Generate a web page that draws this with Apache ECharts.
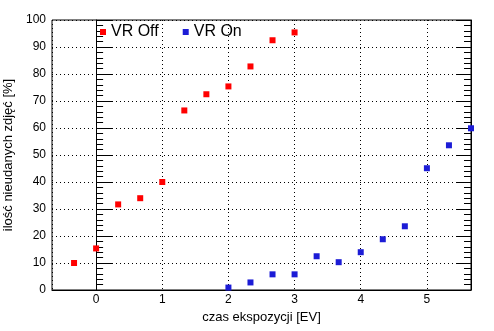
<!DOCTYPE html>
<html>
<head>
<meta charset="utf-8">
<script src="https://cdn.jsdelivr.net/npm/echarts@6/dist/echarts.min.js"></script>
<style>html,body{margin:0;padding:0;background:#fff}#c{width:494px;height:331px}</style>
</head>
<body>
<div id="c"></div>
<script>
var seriesNames = ['VR Off', 'VR On'];
var xOff = [-1/3, 0, 1/3, 2/3, 1, 4/3, 5/3, 2, 7/3, 8/3, 3];
var yOff = [10, 15.4, 31.7, 34, 40, 66.5, 72.5, 75.4, 82.8, 92.5, 95.4];
var xOn = [2, 7/3, 8/3, 3, 10/3, 11/3, 4, 13/3, 14/3, 5, 16/3, 17/3];
var yOn = [0.9, 2.8, 5.8, 5.8, 12.5, 10.3, 14, 18.8, 23.6, 45.1, 53.6, 59.9];
var xName = 'czas ekspozycji [EV]';
var yName = 'ilość nieudanych zdjęć [%]';

function pairs(xs, ys) { return xs.map(function (x, i) { return [x, ys[i]]; }); }

var font = 'Liberation Sans, Arial, sans-serif';
var chart = echarts.init(document.getElementById('c'), null, {renderer: 'canvas'});
chart.setOption({
  animation: false,
  textStyle: {fontFamily: font},
  grid: {left: 52, right: 23, top: 20, bottom: 41, containLabel: false, outerBoundsMode: 'none',
    show: true, borderColor: '#000', borderWidth: 1, backgroundColor: 'transparent'},
  legend: {
    left: 95, top: 19, itemWidth: 6, itemHeight: 6, itemGap: 24, icon: 'rect',
    textStyle: {fontSize: 16, color: '#000', fontFamily: font},
    data: seriesNames
  },
  xAxis: {
    type: 'value', min: -2/3, max: 17/3, splitNumber: 6,
    name: xName, nameLocation: 'middle', nameGap: 20,
    nameTextStyle: {fontSize: 13, color: '#000', fontFamily: font},
    axisLine: {show: true, lineStyle: {color: '#000', width: 1}},
    axisTick: {show: false},
    axisLabel: {
      fontSize: 12, color: '#000', margin: 4, showMinLabel: false, showMaxLabel: false,
      formatter: function (v) { return Math.abs(v - Math.round(v)) < 1e-6 ? String(Math.round(v)) : ''; }
    },
    splitLine: {show: true, lineStyle: {color: '#000', width: 1, type: [1, 3]}}
  },
  yAxis: [{
    type: 'value', min: 0, max: 100, interval: 10, position: 'left',
    name: yName, nameLocation: 'middle', nameGap: 33,
    nameTextStyle: {fontSize: 13, color: '#000', fontFamily: font},
    axisLine: {show: true, lineStyle: {color: '#000', width: 1}},
    axisTick: {show: true, inside: true, length: 16, lineStyle: {color: '#000', width: 1}},
    minorTick: {show: true, splitNumber: 5, length: 7, lineStyle: {color: '#000', width: 1}},
    axisLabel: {fontSize: 12, color: '#000', margin: 6},
    splitLine: {show: true, lineStyle: {color: '#000', width: 1, type: [1, 3]}}
  }, {
    type: 'value', min: 0, max: 100, interval: 10, position: 'right',
    axisLine: {show: true, lineStyle: {color: '#000', width: 1}},
    axisTick: {show: true, inside: true, length: 15, lineStyle: {color: '#000', width: 1}},
    minorTick: {show: true, splitNumber: 5, length: 7, lineStyle: {color: '#000', width: 1}},
    axisLabel: {show: false},
    splitLine: {show: false}
  }],
  series: [{
    name: seriesNames[0], type: 'scatter', symbol: 'rect', symbolSize: 6,
    itemStyle: {color: '#ff0000', opacity: 1}, data: pairs(xOff, yOff)
  }, {
    name: seriesNames[1], type: 'scatter', symbol: 'rect', symbolSize: 6,
    itemStyle: {color: '#1c1cd6', opacity: 1}, data: pairs(xOn, yOn)
  }]
});
</script>
</body>
</html>
